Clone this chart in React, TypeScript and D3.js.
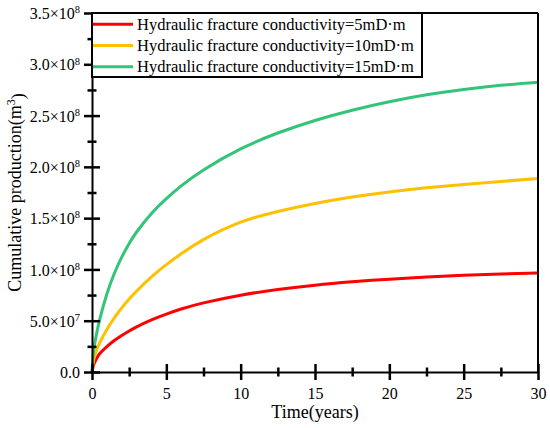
import React, { useRef, useEffect } from 'react';
import * as d3 from 'd3';

// time in years, production in units of 1e8 m3
const years = [0, 0.1, 0.25, 0.5, 1, 1.5, 2, 2.5, 3, 4, 5, 6, 7.5, 10, 12.5, 15, 17.5, 20, 22.5, 25, 27.5, 30];
const prod5 = [0, 0.065, 0.115, 0.175, 0.2475, 0.3065, 0.3565, 0.4005, 0.44, 0.508, 0.565, 0.614, 0.674, 0.749, 0.804, 0.8465, 0.879, 0.9053, 0.926, 0.9425, 0.9555, 0.966];
const prod10 = [0, 0.11, 0.19, 0.28, 0.415, 0.5275, 0.625, 0.711, 0.7885, 0.9265, 1.0465, 1.1525, 1.2905, 1.4605, 1.5655, 1.643, 1.7055, 1.7555, 1.7955, 1.828, 1.858, 1.8855];
const prod15 = [0, 0.2, 0.33, 0.5, 0.76, 0.96, 1.12, 1.2525, 1.365, 1.545, 1.69, 1.814, 1.97, 2.175, 2.33, 2.4525, 2.5525, 2.635, 2.7025, 2.755, 2.795, 2.825];

const seriesNames = [
  'Hydraulic fracture conductivity=5mD·m',
  'Hydraulic fracture conductivity=10mD·m',
  'Hydraulic fracture conductivity=15mD·m',
];
const seriesColors = ['#ff0000', '#ffc000', '#33c479'];

const xTicks = [0, 5, 10, 15, 20, 25, 30];
const xMinor = [2.5, 7.5, 12.5, 17.5, 22.5, 27.5];
const yTicks = [0, 0.5, 1, 1.5, 2, 2.5, 3, 3.5];
const yMinor = [0.25, 0.75, 1.25, 1.75, 2.25, 2.75, 3.25];
const yLabels = [['0.0', ''], ['5.0×10', '7'], ['1.0×10', '8'], ['1.5×10', '8'], ['2.0×10', '8'], ['2.5×10', '8'], ['3.0×10', '8'], ['3.5×10', '8']];

const W = 550;
const H = 428;
const FONT = "'Liberation Serif', 'Times New Roman', Times, 'DejaVu Serif', serif";

const App: React.FC = () => {
  const svgRef = useRef<SVGSVGElement>(null);

  useEffect(() => {
    if (!svgRef.current) return;
    const svg = d3.select(svgRef.current);
    svg.selectAll('*').remove();

    const margin = { top: 13, right: 12, bottom: 56, left: 92 };
    const x = d3.scaleLinear().domain([0, 30]).range([margin.left, W - margin.right]);
    const y = d3.scaleLinear().domain([0, 3.5]).range([H - margin.bottom, margin.top]);
    const [x0, x1] = x.range();
    const [y0, y1] = y.range();

    // curves
    const series = [prod5, prod10, prod15];
    const line = d3.line<number>()
      .x((_, i) => x(years[i]))
      .y(d => y(d))
      .curve(d3.curveNatural);

    series.forEach((s, i) => {
      svg.append('path')
        .datum(s)
        .attr('fill', 'none')
        .attr('stroke', seriesColors[i])
        .attr('stroke-width', 3)
        .attr('d', line);
    });

    // frame top/right
    svg.append('line').attr('x1', x0).attr('x2', x1).attr('y1', y1).attr('y2', y1)
      .attr('stroke', '#000').attr('stroke-width', 2);
    svg.append('line').attr('x1', x1).attr('x2', x1).attr('y1', y1).attr('y2', y0)
      .attr('stroke', '#000').attr('stroke-width', 2);

    // x axis
    const gx = svg.append('g').attr('transform', `translate(0,${y0})`);
    gx.call(d3.axisBottom(x).tickValues(xTicks).tickSizeOuter(0).tickFormat(d => String(d)));
    gx.attr('font-family', null);
    gx.select('.domain').attr('stroke-width', 2);
    gx.selectAll('.tick line').attr('y1', -8).attr('y2', 8).attr('stroke-width', 2.5);
    gx.selectAll('.tick text')
      .attr('y', 16).attr('dy', '0.71em')
      .attr('font-size', 16).style('font-family', FONT).attr('fill', '#000');
    const gxm = svg.append('g').attr('transform', `translate(0,${y0})`);
    gxm.call(d3.axisBottom(x).tickValues(xMinor).tickSizeOuter(0).tickFormat(() => ''));
    gxm.select('.domain').remove();
    gxm.selectAll('.tick line').attr('y1', -4.5).attr('y2', 4.5).attr('stroke-width', 2.5);

    // y axis
    const gy = svg.append('g').attr('transform', `translate(${x0},0)`);
    gy.call(d3.axisLeft(y).tickValues(yTicks).tickSizeOuter(0));
    gy.attr('font-family', null);
    gy.select('.domain').attr('stroke-width', 2);
    gy.selectAll('.tick line').attr('x1', -8).attr('x2', 8).attr('stroke-width', 2.5);
    gy.selectAll<SVGTextElement, number>('.tick text')
      .attr('x', -12).attr('dy', '0.35em')
      .attr('font-size', 16).style('font-family', FONT).attr('fill', '#000')
      .each(function (d) {
        const idx = yTicks.indexOf(d);
        const [base, exp] = yLabels[idx];
        const t = d3.select(this).text(null);
        t.append('tspan').text(base);
        if (exp) t.append('tspan').attr('font-size', 10.5).attr('dy', '-0.55em').text(exp);
      });
    const gym = svg.append('g').attr('transform', `translate(${x0},0)`);
    gym.call(d3.axisLeft(y).tickValues(yMinor).tickSizeOuter(0).tickFormat(() => ''));
    gym.select('.domain').remove();
    gym.selectAll('.tick line').attr('x1', -4.5).attr('x2', 4.5).attr('stroke-width', 2.5);

    // axis titles
    svg.append('text')
      .attr('x', (x0 + x1) / 2).attr('y', 418)
      .attr('text-anchor', 'middle')
      .attr('font-size', 18).style('font-family', FONT)
      .text('Time(years)');

    const yl = svg.append('text')
      .attr('transform', `translate(21,${(y0 + y1) / 2}) rotate(-90)`)
      .attr('text-anchor', 'middle')
      .attr('font-size', 18).style('font-family', FONT);
    yl.append('tspan').text('Cumulative production(m');
    yl.append('tspan').attr('font-size', 12).attr('dy', '-0.5em').text('3');
    yl.append('tspan').attr('dy', '0.5em').text(')');

    // legend
    const lg = svg.append('g');
    lg.append('rect')
      .attr('x', x0).attr('y', y1).attr('width', 330).attr('height', 64)
      .attr('fill', '#fff').attr('stroke', '#000').attr('stroke-width', 2);
    seriesNames.forEach((name, i) => {
      const cy = y1 + 11.3 + i * 21.2;
      lg.append('line')
        .attr('x1', x0 + 1).attr('x2', x0 + 41).attr('y1', cy).attr('y2', cy)
        .attr('stroke', seriesColors[i]).attr('stroke-width', 3);
      lg.append('text')
        .attr('x', x0 + 45).attr('y', cy).attr('dy', '0.35em')
        .attr('font-size', 16.5).style('font-family', FONT)
        .text(name);
    });
  }, []);

  return (
    <svg
      ref={svgRef}
      width={W}
      height={H}
      style={{ position: 'absolute', left: 0, top: 0, background: '#fff' }}
    />
  );
};

export default App;
